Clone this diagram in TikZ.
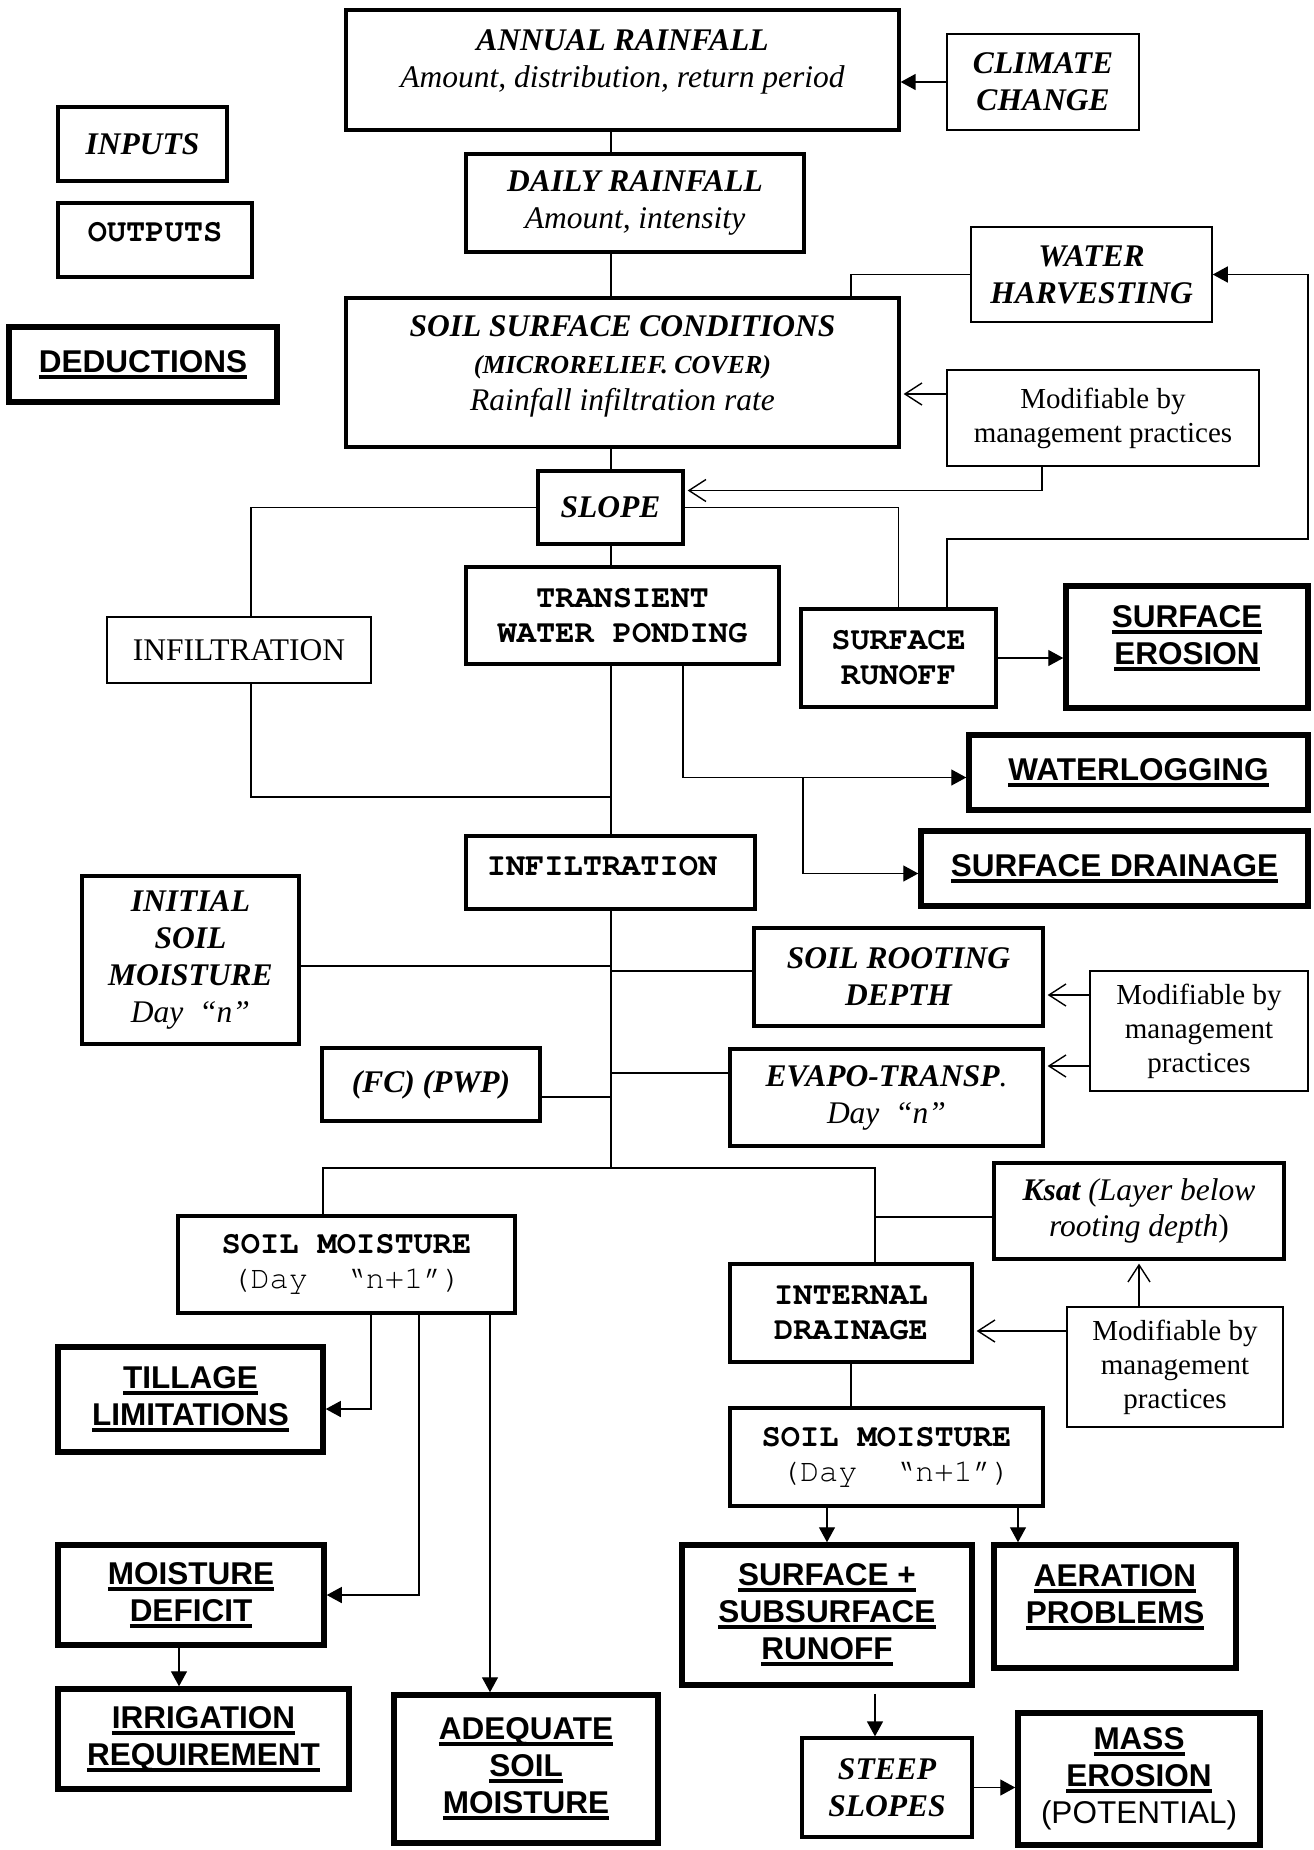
\documentclass[tikz,border=0pt]{standalone}
\usepackage{fontspec}
\setmainfont{Liberation Serif}
\newfontfamily\arialf{Liberation Sans}
\newfontfamily\courf{TeX Gyre Cursor}
\usetikzlibrary{arrows.meta}
\newsavebox\ulbox
\newcommand\myul[1]{\sbox\ulbox{#1}\rlap{\rule[-6.5pt]{\wd\ulbox}{4pt}}\usebox\ulbox}
\begin{document}
\begin{tikzpicture}[x=1pt,y=-1pt,
  base/.style={draw=black, inner sep=0pt, align=center, text=black},
  thinb/.style={base, line width=1.5pt},
  medb/.style={base, line width=3.3pt},
  thickb/.style={base, line width=5.5pt},
  txt/.style={inner sep=0pt, align=center, text=black},
  fin/.style={font=\fontsize{31.5}{37}\selectfont\bfseries\itshape},
  fit/.style={font=\fontsize{31.5}{36}\selectfont\itshape},
  fout/.style={font=\fontsize{32}{35}\selectfont\courf\bfseries},
  fded/.style={font=\fontsize{31.5}{37}\selectfont\arialf\bfseries},
  fmod/.style={font=\fontsize{29}{34}\selectfont},
  freg/.style={font=\fontsize{31.5}{36}\selectfont},
  conn/.style={line width=1.4pt},
  farr/.style={conn, -{Triangle[length=15pt,width=16pt]}},
  oarr/.style={conn, -{Straight Barb[length=17pt,width=22pt]}, shorten >=3pt},
]
\useasboundingbox (0,0) rectangle (1314,1850);
\fill[white] (0,0) rectangle (1314,1850);

% ---------- legend ----------
\node[medb, fin, minimum width=169pt, minimum height=74pt] (inputs) at (142.5,144) {INPUTS};
\node[medb, minimum width=194pt, minimum height=74pt] (outputs) at (155,240) {};
\node[txt, fout] (outputsT) at (155,232) {OUTPUTS};
\node[thickb, fded, minimum width=268pt, minimum height=75pt] (deductions) at (143,364.5) {\myul{DEDUCTIONS}};

% ---------- upper chain ----------
\node[medb, minimum width=553pt, minimum height=120pt] (annual) at (622.5,70) {};
\node[txt, fin] (annualT) at (622.5,62) {ANNUAL RAINFALL\\{\mdseries Amount, distribution, return period}};
\node[thinb, fin, minimum width=192pt, minimum height=96pt] (climate) at (1043,82) {CLIMATE\\CHANGE};
\node[medb, fin, minimum width=338pt, minimum height=98pt] (daily) at (635,203) {DAILY RAINFALL\\{\mdseries Amount, intensity}};
\node[thinb, fin, minimum width=241pt, minimum height=95pt] (wh) at (1091.5,274.5) {WATER\\HARVESTING};
\node[medb, minimum width=553pt, minimum height=149pt] (soilsurf) at (622.5,372.5) {};
\node[txt, fin] (soilsurfT) at (622.5,366) {SOIL SURFACE CONDITIONS\\{\fontsize{26}{31}\selectfont (MICRORELIEF. COVER)}\\{\mdseries Rainfall infiltration rate}};
\node[thinb, fmod, minimum width=312pt, minimum height=96pt] (mod1) at (1103,418) {Modifiable by\\management practices};
\node[medb, fin, minimum width=145pt, minimum height=73pt] (slope) at (610.5,507.5) {SLOPE};
\node[thinb, freg, line width=2pt, minimum width=264pt, minimum height=66pt] (infil1) at (239,650) {INFILTRATION};
\node[medb, fout, minimum width=313pt, minimum height=97pt] (transient) at (622.5,615.5) {TRANSIENT\\WATER PONDING};
\node[medb, fout, minimum width=195pt, minimum height=98pt] (runoff) at (898.5,658) {SURFACE\\RUNOFF};
\node[thickb, minimum width=242pt, minimum height=122pt] (erosion) at (1187,647) {};
\node[txt, fded] (erosionT) at (1187,638) {\myul{SURFACE}\\\myul{EROSION}};
\node[thickb, fded, minimum width=339pt, minimum height=75pt] (waterlog) at (1138.5,772.5) {\myul{WATERLOGGING}};
\node[thickb, fded, minimum width=387pt, minimum height=75pt] (drain) at (1114.5,868.5) {\myul{SURFACE DRAINAGE}};
\node[medb, minimum width=289pt, minimum height=73pt] (infil2) at (610.5,872.5) {};
\node[txt, fout] (infil2T) at (602,866) {INFILTRATION};

% ---------- middle ----------
\node[medb, fin, minimum width=217pt, minimum height=168pt] (initial) at (190.5,960) {INITIAL\\SOIL\\MOISTURE\\{\mdseries Day~~“n”}};
\node[medb, fin, minimum width=289pt, minimum height=98pt] (rooting) at (898.5,977) {SOIL ROOTING\\DEPTH};
\node[thinb, fmod, minimum width=218pt, minimum height=120pt] (mod2) at (1199,1031) {Modifiable by\\management\\practices};
\node[medb, fin, minimum width=218pt, minimum height=73pt] (fc) at (431,1084.5) {(FC) (PWP)};
\node[medb, fin, minimum width=313pt, minimum height=97pt] (evapo) at (886.5,1097.5) {EVAPO-TRANSP{\mdseries.}\\{\mdseries Day~~“n”}};
\node[medb, fit, minimum width=290pt, minimum height=96pt] (ksat) at (1139,1211) {{\bfseries Ksat} (Layer below\\rooting depth{\upshape )}};
\node[medb, fout, minimum width=337pt, minimum height=97pt] (sm1) at (346.5,1264.5) {SOIL MOISTURE\\{\mdseries (Day~~“n+1”)}};
\node[medb, fout, minimum width=242pt, minimum height=98pt] (internal) at (851,1313) {INTERNAL\\DRAINAGE};
\node[thinb, fmod, minimum width=216pt, minimum height=120pt] (mod3) at (1175,1367) {Modifiable by\\management\\practices};
\node[medb, fout, minimum width=313pt, minimum height=98pt] (sm2) at (886.5,1457) {SOIL MOISTURE\\{\mdseries\hspace*{19pt}(Day~~“n+1”)}};

% ---------- lower outputs ----------
\node[thickb, fded, minimum width=265pt, minimum height=105pt] (tillage) at (190.5,1399.5) {\myul{TILLAGE}\\\myul{LIMITATIONS}};
\node[thickb, fded, minimum width=266pt, minimum height=100pt] (deficit) at (191,1595) {\myul{MOISTURE}\\\myul{DEFICIT}};
\node[thickb, fded, minimum width=291pt, minimum height=100pt] (irrigation) at (203.5,1739) {\myul{IRRIGATION}\\\myul{REQUIREMENT}};
\node[thickb, fded, minimum width=264pt, minimum height=148pt] (adequate) at (526,1769) {\myul{ADEQUATE}\\\myul{SOIL}\\\myul{MOISTURE}};
\node[thickb, fded, minimum width=290pt, minimum height=140pt] (ssr) at (827,1615) {\myul{SURFACE +}\\\myul{SUBSURFACE}\\\myul{RUNOFF}};
\node[thickb, minimum width=242pt, minimum height=123pt] (aeration) at (1115,1606.5) {};
\node[txt, fded] (aerationT) at (1115,1597) {\myul{AERATION}\\\myul{PROBLEMS}};
\node[medb, fin, minimum width=170pt, minimum height=99pt] (steep) at (887,1787.5) {STEEP\\SLOPES};
\node[thickb, fded, minimum width=242pt, minimum height=132pt] (mass) at (1139,1779) {\myul{MASS}\\\myul{EROSION}\\{\mdseries (POTENTIAL)}};

% ---------- helper coordinates ----------
\coordinate (mx) at (611,0);
\coordinate (whx) at (851,0);
\coordinate (i1x) at (251,0);
\coordinate (j1) at (611,797);
\coordinate (rx) at (947,0);
\coordinate (rr) at (1308,539);
\coordinate (tx) at (683,0);
\coordinate (j2) at (803,778);
\coordinate (jmain) at (611,1168);
\coordinate (bl) at (323,1168);
\coordinate (br) at (875,1168);
\coordinate (m3x) at (1139,0);
\coordinate (ax) at (1018,0);
\coordinate (sx) at (875,0);
\coordinate (c1) at (371,0);
\coordinate (c2) at (419,0);
\coordinate (c3) at (490,0);
\coordinate (c4) at (179,0);

% ---------- connectors ----------
\draw[conn] (mx |- annual.south) -- (mx |- daily.north);
\draw[conn] (mx |- daily.south) -- (mx |- soilsurf.north);
\draw[conn] (mx |- soilsurf.south) -- (mx |- slope.north);
\draw[conn] (mx |- slope.south) -- (mx |- transient.north);
\draw[conn] (mx |- transient.south) -- (mx |- infil2.north);
\draw[conn] (mx |- infil2.south) -- (jmain);
\draw[farr] (climate.west) -- (climate.west -| annual.east);
\draw[conn] (wh.west) -| (whx |- soilsurf.north);
\draw[oarr] ([yshift=24pt]mod1.west) -- ([yshift=24pt]mod1.west -| soilsurf.east);
\draw[oarr] ([xshift=-61pt]mod1.south) |- ([yshift=17pt]slope.east);
\draw[conn] (slope.west) -| (i1x |- infil1.north);
\draw[conn] (i1x |- infil1.south) |- (j1);
\draw[conn] (slope.east) -| (runoff.north);
\draw[farr] (runoff.east) -- (runoff.east -| erosion.west);
\draw[farr] (rx |- runoff.north) |- (rr) |- (wh.east);
\draw[farr] (tx |- transient.south) |- ([yshift=-5pt]waterlog.west);
\draw[farr] (j2) |- ([yshift=-5pt]drain.west);
\draw[conn] ([yshift=-6pt]initial.east) -- ([yshift=-6pt]initial.east -| mx);
\draw[conn] ([yshift=6pt]rooting.west) -- ([yshift=6pt]rooting.west -| mx);
\draw[conn] ([yshift=-12.5pt]fc.east) -- ([yshift=-12.5pt]fc.east -| mx);
\draw[conn] ([yshift=24.5pt]evapo.west) -- ([yshift=24.5pt]evapo.west -| mx);
\draw[oarr] ([yshift=36pt]mod2.west) -- ([yshift=36pt]mod2.west -| rooting.east);
\draw[oarr] ([yshift=-35pt]mod2.west) -- ([yshift=-35pt]mod2.west -| evapo.east);
\draw[conn] (bl |- sm1.north) -- (bl) -- (br) -- (br |- internal.north);
\draw[conn] ([yshift=-6pt]ksat.west) -- ([yshift=-6pt]ksat.west -| br);
\draw[oarr] (m3x |- mod3.north) -- (m3x |- ksat.south);
\draw[oarr] ([yshift=36pt]mod3.west) -- ([yshift=36pt]mod3.west -| internal.east);
\draw[conn] (internal.south) -- (internal.south |- sm2.north);
\draw[farr] (ssr.north |- sm2.south) -- (ssr.north);
\draw[farr] (ax |- sm2.south) -- (ax |- aeration.north);
\draw[farr, shorten <=6pt] (sx |- ssr.south) -- (sx |- steep.north);
\draw[farr] (steep.east) -- (steep.east -| mass.west);
\draw[farr] (c1 |- sm1.south) |- ([yshift=-9.5pt]tillage.east);
\draw[farr] (c2 |- sm1.south) |- (deficit.east);
\draw[farr] (c3 |- sm1.south) -- (c3 |- adequate.north);
\draw[farr] (c4 |- deficit.south) -- (c4 |- irrigation.north);
\end{tikzpicture}
\end{document}
